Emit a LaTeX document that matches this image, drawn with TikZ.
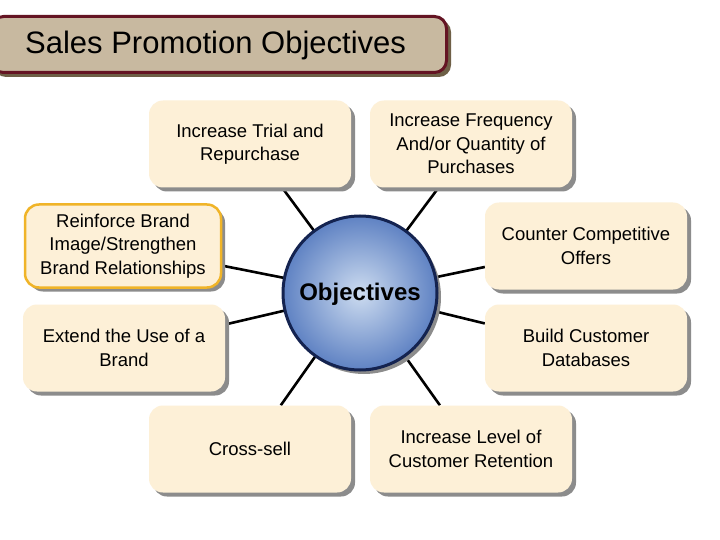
\documentclass[tikz,border=0pt]{standalone}
\usepackage{fontspec}
\setmainfont{Liberation Sans}
\usetikzlibrary{shadows,backgrounds}
\definecolor{boxfill}{RGB}{253,240,215}
\definecolor{titlefill}{RGB}{200,185,160}
\definecolor{titleshadow}{RGB}{110,95,70}
\definecolor{maroon}{RGB}{100,20,35}
\definecolor{ringblue}{RGB}{20,35,80}
\definecolor{ballout}{RGB}{95,130,195}
\definecolor{ballin}{RGB}{205,220,240}
\definecolor{gold}{RGB}{240,180,40}
\tikzset{
  obj/.style={rounded corners=14pt, fill=boxfill, minimum width=202pt, minimum height=87pt,
    align=center, font=\fontsize{18.5}{23.5}\selectfont, inner sep=2pt,
    drop shadow={shadow xshift=4pt, shadow yshift=-4pt, fill=black!45, opacity=1}},
  conn/.style={line width=2.6pt, black}
}
\begin{document}
\begin{tikzpicture}[x=1pt,y=-1pt]
\useasboundingbox (0,0) rectangle (720,540);
% title
\fill[titleshadow, rounded corners=12pt] (-6,20) rectangle (451,77);
\node[draw=maroon, line width=3pt, fill=titlefill, rounded corners=12pt, minimum width=455pt, minimum height=56pt, anchor=north west] (title) at (-10,15) {};
\node[font=\fontsize{31}{36}\selectfont, anchor=west, inner sep=0pt] (ttext) at (25,45) {Sales Promotion Objectives};
% center
\coordinate (c) at (360,293);
\node[obj] (trial) at (250,144) {Increase Trial and\\Repurchase};
\node[obj] (freq) at (471,144) {Increase Frequency\\And/or Quantity of\\Purchases};
\node[obj, draw=gold, line width=2.5pt, minimum width=196pt, minimum height=83pt] (brand) at (123,246) {Reinforce Brand\\Image/Strengthen\\Brand Relationships};
\node[obj] (counter) at (586,246) {Counter Competitive\\Offers};
\node[obj] (extend) at (124,348) {Extend the Use of a\\Brand};
\node[obj] (build) at (586,348) {Build Customer\\Databases};
\node[obj] (cross) at (250,449) {Cross-sell};
\node[obj] (ret) at (471,449) {Increase Level of\\Customer Retention};
\begin{scope}[on background layer]
\fill[white] (0,0) rectangle (720,540);
\foreach \b in {trial, freq, brand, counter, extend, build, cross, ret}{
  \draw[conn] (c) -- (\b);
}
\end{scope}
% ball
\fill[black!45] (364,297) circle (77);
\shade[inner color=ballin, outer color=ballout] (c) circle (77);
\draw[ringblue, line width=3pt] (c) circle (77);
\node[font=\bfseries\fontsize{24}{28}\selectfont] (objt) at (360,294) {Objectives};
\end{tikzpicture}
\end{document}
